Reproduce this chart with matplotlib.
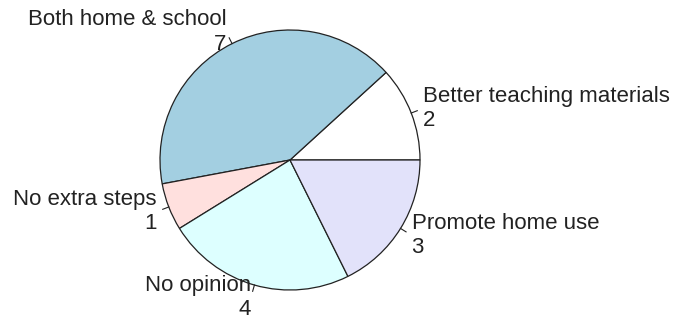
import numpy as np
import matplotlib
matplotlib.use("Agg")
import matplotlib.pyplot as plt

# slices in R order (counter-clockwise from 3 o'clock)
labels = ["Better teaching materials", "Both home & school", "No extra steps",
          "No opinion", "Promote home use"]
counts = [2, 7, 1, 4, 3]
colors = ["#FFFFFF", "#A3CFE1", "#FFE0DE", "#DDFFFF", "#E2E2FA"]

plt.rcParams['font.family'] = ['Liberation Sans', 'DejaVu Sans']

fig = plt.figure(figsize=(6.74, 3.29), dpi=100)
ax = fig.add_axes([0, 0, 1, 1])

ax.pie(counts, colors=colors, startangle=0, counterclock=True, radius=1,
       wedgeprops=dict(edgecolor='#222222', linewidth=0.9))
# center at pixel (290,160), radius 130
ax.set_xlim(-290 / 130, (674 - 290) / 130)
ax.set_ylim(-169 / 130, 160 / 130)
ax.set_aspect('equal')
ax.axis('off')

total = sum(counts)
cum = np.cumsum([0] + counts)
for i, (lab, n) in enumerate(zip(labels, counts)):
    mid = 2 * np.pi * (cum[i] + cum[i + 1]) / 2 / total
    x, y = np.cos(mid), np.sin(mid)
    ax.plot([x, 1.05 * x], [y, 1.05 * y], color='#222222', linewidth=0.8)
    ha = 'left' if x >= 0 else 'right'
    ax.text(1.1 * x, 1.1 * y, f"{lab}\n{n}", ha=ha, va='center',
            multialignment=ha, fontsize=16, color='#222222', linespacing=1.2)

fig.savefig("out.png", dpi=100)
